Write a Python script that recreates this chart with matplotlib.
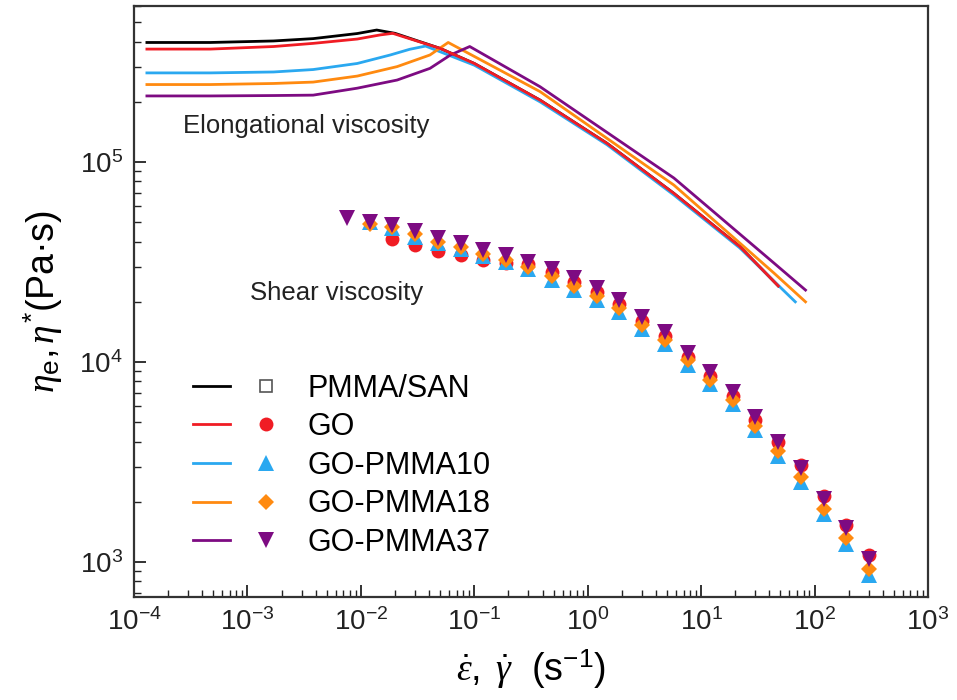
import matplotlib
matplotlib.use("Agg")
import matplotlib.pyplot as plt
from matplotlib.legend_handler import HandlerTuple
from matplotlib.ticker import LogLocator, NullFormatter

plt.rcParams['font.family'] = ['Liberation Sans', 'DejaVu Sans']
plt.rcParams['mathtext.fontset'] = 'custom'
plt.rcParams['mathtext.rm'] = 'Liberation Sans'
plt.rcParams['mathtext.it'] = 'Liberation Serif:italic'
plt.rcParams['mathtext.bf'] = 'Liberation Sans:bold'

labels = ["PMMA/SAN", "GO", "GO-PMMA10", "GO-PMMA18", "GO-PMMA37"]
colors = ["black", "#f01c24", "#2aa8f0", "#ff8a10", "#7d0b82"]
markers = ["s", "o", "^", "D", "v"]
x_ticks = [1e-4, 1e-3, 1e-2, 1e-1, 1e0, 1e1, 1e2, 1e3]
y_ticks = [1e3, 1e4, 1e5]

# elongational viscosity (strain rate 1/s, Pa s)
san_rate = [1.3e-4, 4.7e-4, 1.7e-3, 3.8e-3, 9.3e-3, 0.0138, 0.020, 0.050, 0.10, 0.38, 1.48, 5.75, 21.9, 47.9]
san_eta = [3.96e5, 3.96e5, 4.03e5, 4.14e5, 4.39e5, 4.57e5, 4.40e5, 3.70e5, 3.11e5, 2.04e5, 1.24e5, 6.97e4, 3.78e4, 2.40e4]

go_rate = [1.3e-4, 4.7e-4, 1.7e-3, 3.8e-3, 9.3e-3, 0.0148, 0.0191, 0.050, 0.10, 0.38, 1.48, 5.75, 21.9, 47.9]
go_eta = [3.67e5, 3.67e5, 3.78e5, 3.92e5, 4.12e5, 4.32e5, 4.40e5, 3.70e5, 3.11e5, 2.04e5, 1.24e5, 6.97e4, 3.78e4, 2.40e4]

p10_rate = [1.3e-4, 4.7e-4, 1.7e-3, 3.8e-3, 9.3e-3, 0.0182, 0.0269, 0.0372, 0.10, 0.38, 1.48, 5.75, 21.9, 67.6]
p10_eta = [2.79e5, 2.79e5, 2.82e5, 2.90e5, 3.11e5, 3.43e5, 3.66e5, 3.80e5, 3.05e5, 2.00e5, 1.22e5, 6.84e4, 3.72e4, 2.00e4]

p18_rate = [1.3e-4, 4.7e-4, 1.7e-3, 3.8e-3, 9.3e-3, 0.0209, 0.0407, 0.0589, 0.38, 5.75, 43.7, 83.2]
p18_eta = [2.44e5, 2.44e5, 2.47e5, 2.51e5, 2.69e5, 3.00e5, 3.43e5, 3.96e5, 2.25e5, 7.67e4, 2.79e4, 2.00e4]

p37_rate = [1.3e-4, 4.7e-4, 1.7e-3, 3.8e-3, 9.3e-3, 0.0209, 0.0407, 0.0617, 0.0912, 0.38, 5.75, 43.7, 83.2]
p37_eta = [2.14e5, 2.14e5, 2.15e5, 2.16e5, 2.34e5, 2.57e5, 2.94e5, 3.43e5, 3.78e5, 2.38e5, 8.32e4, 3.13e4, 2.29e4]

# shear (complex) viscosity, frequency sweep points
shear_rate = [0.0076, 0.012, 0.019, 0.030, 0.048, 0.076, 0.12, 0.19, 0.30, 0.48, 0.76, 1.2,
              1.9, 3.0, 4.8, 7.6, 12, 19, 30, 48, 76, 120, 190, 300]
go_shear = [41070, 38460, 36010, 34280, 32360, 31160, 30800, 28100, 25000, 22300, 19500,
            16100, 13500, 10650, 8540, 6750, 5150, 4000, 3045, 2140, 1530, 1080]
p10_shear = [50300, 46750, 42300, 39200, 36600, 33900, 31640, 29300, 25740, 22830, 20350, 17780,
             14680, 12340, 9720, 7790, 6150, 4590, 3400, 2500, 1735, 1228, 860]
p18_shear = [49000, 47300, 43800, 39700, 37460, 34680, 32350, 29960, 26980, 23900, 21300, 18620,
             15370, 12920, 10180, 8160, 6440, 4800, 3600, 2650, 1840, 1315, 920]
p37_shear = [52300, 50300, 48400, 45350, 41550, 39230, 36310, 34280, 31740, 29240, 26210, 23360,
             20420, 16850, 14170, 11160, 8945, 7063, 5328, 3995, 2941, 2065, 1476, 1033]

fig = plt.figure(figsize=(9.57, 7.0), dpi=100)
ax = fig.add_axes([0.140, 0.147, 0.8297, 0.8447])

line_data = [(san_rate, san_eta), (go_rate, go_eta), (p10_rate, p10_eta),
             (p18_rate, p18_eta), (p37_rate, p37_eta)]
lines = []
for i in [0, 2, 3, 4, 1]:
    x, y = line_data[i]
    ln, = ax.plot(x, y, color=colors[i], lw=2.0, zorder=2 + (i == 1))
    lines.append((i, ln))
lines = [ln for _, ln in sorted(lines, key=lambda t: t[0])]

marks = []
m0, = ax.plot([], [], ls='none', marker='s', ms=8, mfc='white', mec='#555555', mew=1.2)
marks.append(m0)
m1, = ax.plot(shear_rate[2:], go_shear, ls='none', marker='o', ms=10, color=colors[1], mew=0, zorder=4)
m2, = ax.plot(shear_rate[1:], p10_shear, ls='none', marker='^', ms=11, color=colors[2], mew=0, zorder=5)
m3, = ax.plot(shear_rate[1:], p18_shear, ls='none', marker='D', ms=8, color=colors[3], mew=0, zorder=6)
m4, = ax.plot(shear_rate, p37_shear, ls='none', marker='v', ms=12, color=colors[4], mew=0, zorder=7)
marks += [m1, m2, m3, m4]

ax.set_xscale('log')
ax.set_yscale('log')
ax.set_xlim(1e-4, 1e3)
ax.set_ylim(668, 6.04e5)

ax.set_xticks(x_ticks)
ax.set_yticks(y_ticks)
ax.xaxis.set_minor_locator(LogLocator(base=10, subs=range(2, 10), numticks=100))
ax.yaxis.set_minor_locator(LogLocator(base=10, subs=range(2, 10), numticks=100))
ax.xaxis.set_minor_formatter(NullFormatter())
ax.yaxis.set_minor_formatter(NullFormatter())

ax.tick_params(which='both', direction='in', top=False, right=False, colors='#222222')
ax.tick_params(which='major', length=8.5, width=1.3, labelsize=20, pad=8)
ax.tick_params(which='minor', length=5, width=1.0)
for sp in ax.spines.values():
    sp.set_linewidth(1.6)
    sp.set_color('#333333')

ax.set_xlabel(r'$\dot{\varepsilon},\ \dot{\gamma}$  (s$^{-1}$)', fontsize=27, labelpad=8)
ax.set_ylabel(r'$\eta_{\mathrm{e}}, \eta^{*}$(Pa·s)', fontsize=27, labelpad=10)

ax.text(0.0617, 0.797, 'Elongational viscosity', transform=ax.transAxes,
        fontsize=18.5, color='#222222', ha='left', va='center')
ax.text(0.146, 0.514, 'Shear viscosity', transform=ax.transAxes,
        fontsize=18.5, color='#222222', ha='left', va='center')

handles = [(lines[i], marks[i]) for i in range(5)]
ax.legend(handles, labels, handler_map={tuple: HandlerTuple(ndivide=2, pad=0.6)},
          loc='upper left', bbox_to_anchor=(0.0743, 0.378), borderaxespad=0, borderpad=0,
          frameon=False, fontsize=22, handlelength=3.0, handletextpad=0.75,
          labelspacing=0.28)

fig.savefig('out.png', dpi=100)
